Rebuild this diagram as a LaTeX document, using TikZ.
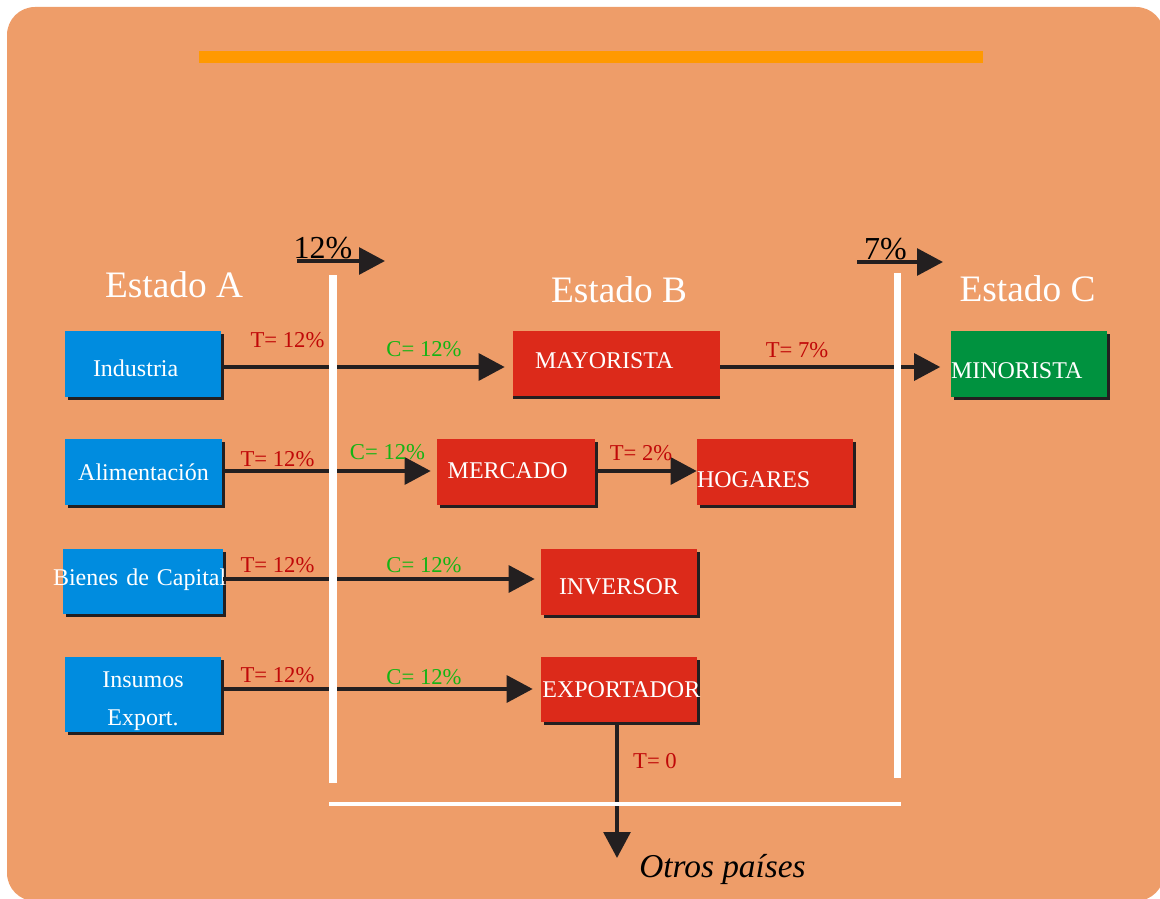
\documentclass[tikz,border=0pt]{standalone}
\usepackage{fontspec}
\setmainfont{Liberation Serif}
\usetikzlibrary{arrows.meta,shadows}

\definecolor{fondo}{RGB}{238,157,105}
\definecolor{barra}{RGB}{255,153,0}
\definecolor{azul}{RGB}{0,140,223}
\definecolor{rojo}{RGB}{220,42,26}
\definecolor{verde}{RGB}{0,146,63}
\definecolor{tinta}{RGB}{35,31,32}
\definecolor{tasac}{RGB}{192,8,8}
\definecolor{credc}{RGB}{20,180,20}

\tikzset{
  box/.style={rectangle, inner sep=0pt, minimum width=117pt, minimum height=49.5pt,
    text=white, font=\fontsize{18}{21}\selectfont, text depth=0pt,
    general shadow={fill=tinta, shadow xshift=#1, shadow yshift=-2.25pt}},
  box/.default=2.25pt,
  flow/.style={draw=tinta, line width=3pt, -{Triangle[length=19.5pt,width=20pt]}},
  tasa/.style={text=tasac, font=\fontsize{17}{20}\selectfont, anchor=base, inner sep=0pt},
  cred/.style={text=credc, font=\fontsize{17}{20}\selectfont, anchor=base, inner sep=0pt},
  estado/.style={text=white, font=\fontsize{28}{32}\selectfont, anchor=base, inner sep=0pt},
  pct/.style={text=black, font=\fontsize{24}{28}\selectfont, anchor=base, inner sep=0pt}
}

\begin{document}
\begin{tikzpicture}[x=0.75pt, y=-0.75pt]
  \useasboundingbox (0,0) rectangle (1160,899);
  % Fondo
  \fill[fondo, rounded corners=21pt] (7,7) rectangle (1164,901);
  \fill[barra] (199,51) rectangle (983,63);
  % Estado A: sectores
  \node[box, fill=azul, text width=75pt, inner xsep=21pt, align=left, text height=19.4pt] (ind) at (143,364) {Industria};
  \node[box, fill=azul, text width=117.75pt, align=center, text height=13.4pt] (ali) at (143.5,472) {Alimentación};
  \node[box, fill=azul, text width=120pt, align=left, text height=6.7pt, minimum height=48.75pt] (bien) at (143,581.5) {\hspace*{-7.5pt}\mbox{Bienes de Capital}};
  \node[box, fill=azul, text width=117pt, align=center, font=\fontsize{18}{28.5}\selectfont, text height=21.3pt, text depth={}, minimum height=56.25pt] (insu) at (143,694.5) {Insumos\\Export.};
  % Estado B
  \node[box=0pt, fill=rojo, minimum height=48.75pt, text width=122.25pt, inner xsep=16.5pt, align=left, text height=7.4pt] (may) at (616.5,363.5) {MAYORISTA};
  \node[box, fill=rojo, text width=102.5pt, inner xsep=8pt, align=left, text height=10.4pt] (mer) at (516,472) {MERCADO};
  \node[box, fill=rojo, text width=117pt, align=left, text height=23.1pt] (hog) at (775,472) {HOGARES};
  \node[box, fill=rojo, text width=117pt, align=center, text height=19.4pt] (inv) at (619,582) {INVERSOR};
  \node[box, fill=rojo, minimum height=48.75pt, text width=115pt, inner xsep=1pt, align=left, text height=11.9pt] (exp) at (619,689.5) {EXPORTADOR};
  % Estado C
  \node[box, fill=verde, text width=116.25pt, align=left, text height=22.4pt] (mino) at (1028.5,364) {MINORISTA};
  % Flujos
  \draw[flow, shorten >=6pt] (ind.east |- 0,367) -- (may.west |- 0,367);
  \draw[flow, shorten >=7.5pt] (may.east |- 0,367) -- (mino.west |- 0,367);
  \draw[flow, shorten >=4.5pt] (ali.east |- 0,471) -- (mer.west |- 0,471);
  \draw[flow] (mer.east |- 0,471) -- (hog.west |- 0,471);
  \draw[flow, shorten >=4.5pt] (bien.east |- 0,579) -- (inv.west |- 0,579);
  \draw[flow, shorten >=6pt] (insu.east |- 0,689) -- (exp.west |- 0,689);
  \coordinate (otros) at (617,858);
  \draw[flow] (exp.south -| otros) -- (otros);
  % Fronteras
  \draw[white, line width=6pt] (333,275) -- (333,783);
  \draw[white, line width=5.25pt] (897,273) -- (897,778);
  \draw[white, line width=3pt] (329,804) -- (901,804);
  % Impuestos en frontera
  \coordinate (a12) at (297,261);
  \coordinate (b12) at (385,261);
  \draw[flow] (a12) -- (b12);
  \node[pct] (p12) at (323,258) {12\%};
  \coordinate (a7) at (857,262);
  \coordinate (b7) at (943,262);
  \draw[flow] (a7) -- (b7);
  \node[pct] (p7) at (885.5,259) {7\%};
  % Estados
  \node[estado] (ea) at (174,297) {Estado A};
  \node[estado] (eb) at (619,302) {Estado B};
  \node[estado] (ec) at (1027.5,301) {Estado C};
  % Tasas y creditos
  \node[tasa] (t1) at (287.5,347) {T= 12\%};
  \node[cred] (c1) at (424,356) {C= 12\%};
  \node[tasa] (t7) at (797,357) {T= 7\%};
  \node[tasa] (t2) at (277.5,466) {T= 12\%};
  \node[cred] (c2) at (387.5,459) {C= 12\%};
  \node[tasa] (t2b) at (641,460) {T= 2\%};
  \node[tasa] (t3) at (277.5,572) {T= 12\%};
  \node[cred] (c3) at (424,572) {C= 12\%};
  \node[tasa] (t4) at (277.5,682) {T= 12\%};
  \node[cred] (c4) at (424,684) {C= 12\%};
  \node[tasa] (t0) at (655,768) {T= 0};
  % Exportacion
  \node[font=\fontsize{25}{30}\selectfont\itshape, anchor=base, inner sep=0pt] (otp) at (722.5,877) {Otros países};
\end{tikzpicture}
\end{document}
